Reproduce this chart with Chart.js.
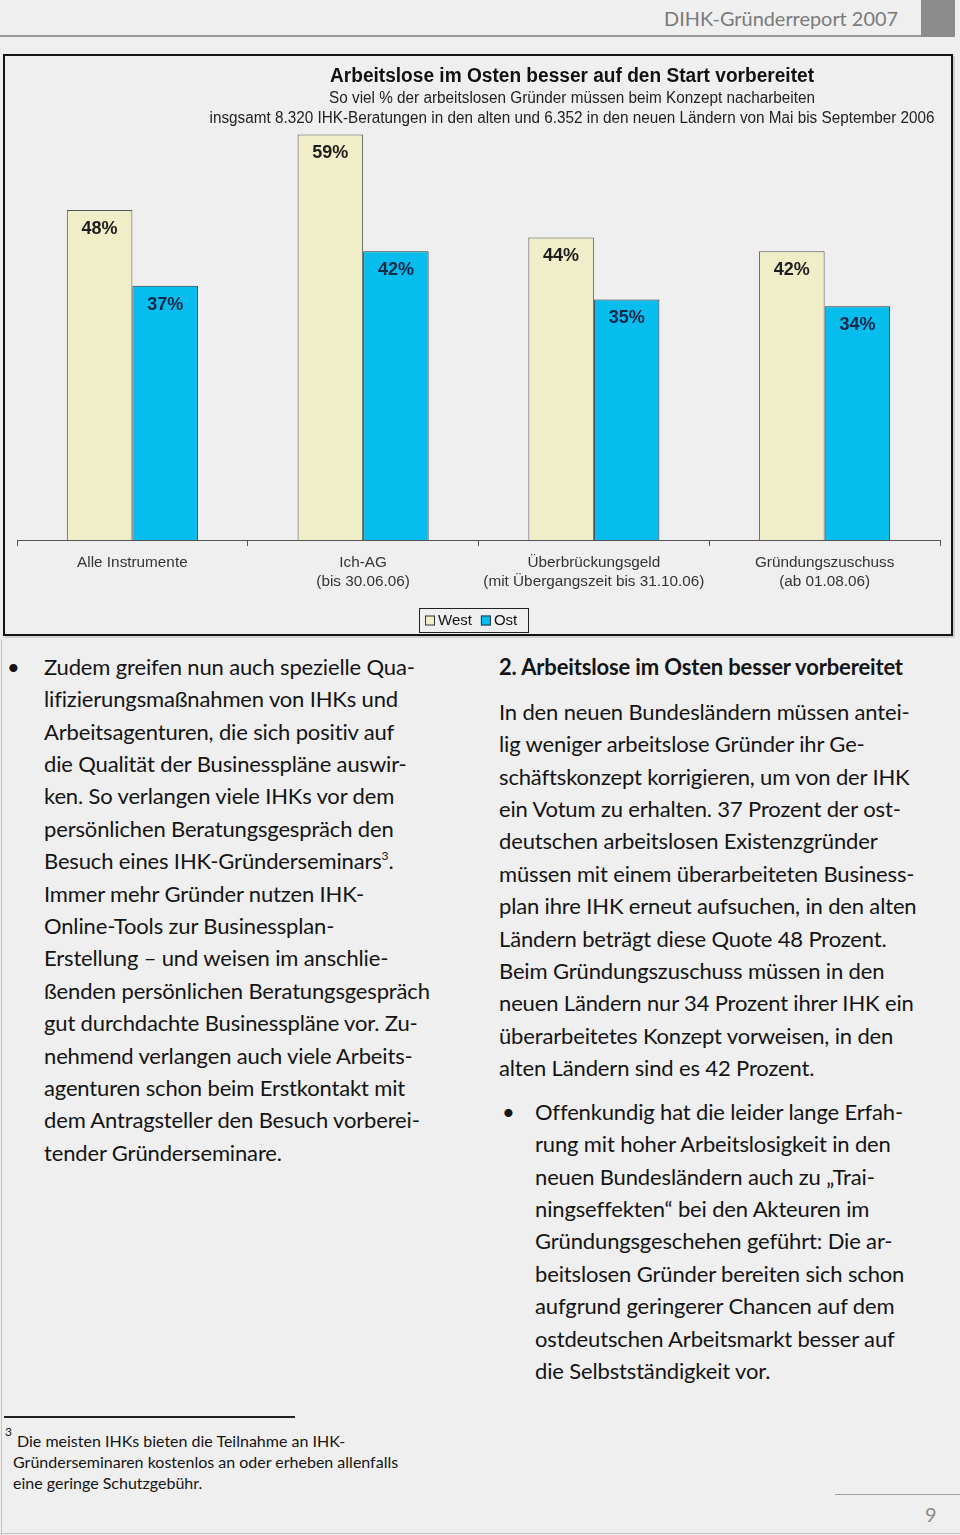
<!DOCTYPE html>
<html>
<head>
<meta charset="utf-8">
<script src="https://cdn.jsdelivr.net/npm/chart.js@4.4.1/dist/chart.umd.min.js"></script>
<style>
body { margin:0; width:960px; height:1535px; background:#efefef; position:relative; overflow:hidden; font-family:Lato, "Open Sans", sans-serif; color:#141414; }
.abs { position:absolute; }
.hdr { left:0; top:5px; width:898px; text-align:right; font-size:19.9px; color:#7a7a7a; line-height:26px; }
.hdrline { left:0; top:35px; width:921px; height:2px; background:#9a9a9a; }
.hdrblock { left:921px; top:0; width:34px; height:37px; background:#8c8c8c; }
.frame { left:3px; top:54px; width:950px; height:582px; box-sizing:border-box; border:2px solid #141414; box-shadow:2px 2px 0 #d0d0d0; }
.col { font-size:22px; line-height:32.4px; white-space:pre; letter-spacing:-0.15px; }
.col sup { font-size:12px; line-height:0; position:relative; top:-1px; }
.bullet { font-size:22px; line-height:32.4px; }
.fnline { left:4px; top:1416px; width:291px; height:1.5px; background:#222; }
.fn { font-size:16px; line-height:21px; white-space:pre; left:13px; top:1430px; }
.sup { left:5px; top:1424px; font-size:12px; }
.pgline { left:835px; top:1494px; width:125px; height:1px; background:#a0a0a0; }
.pg { left:925px; top:1502px; font-size:20px; color:#8a8a8a; }
.edge { left:1px; top:640px; width:1px; height:895px; background:#c4c4c4; }
.bottom { left:0; top:1533px; width:960px; height:1px; background:#c4c4c4; }
</style>
</head>
<body>
<div class="abs hdr">DIHK-Gründerreport 2007</div>
<div class="abs hdrline"></div>
<div class="abs hdrblock"></div>

<div class="abs frame">
  <canvas id="chart" width="946" height="578" style="display:block"></canvas>
</div>

<div class="abs bullet" style="left:7px;top:650.8px">•</div>
<div class="abs col" style="left:44px;top:650.8px">Zudem greifen nun auch spezielle Qua-
lifizierungsmaßnahmen von IHKs und
Arbeitsagenturen, die sich positiv auf
die Qualität der Businesspläne auswir-
ken. So verlangen viele IHKs vor dem
persönlichen Beratungsgespräch den
Besuch eines IHK-Gründerseminars<sup>3</sup>.
Immer mehr Gründer nutzen IHK-
Online-Tools zur Businessplan-
Erstellung – und weisen im anschlie-
ßenden persönlichen Beratungsgespräch
gut durchdachte Businesspläne vor. Zu-
nehmend verlangen auch viele Arbeits-
agenturen schon beim Erstkontakt mit
dem Antragsteller den Besuch vorberei-
tender Gründerseminare.</div>

<div class="abs col" style="left:499px;top:650.8px;font-weight:bold">2. Arbeitslose im Osten besser vorbereitet</div>
<div class="abs col" style="left:499px;top:695.8px">In den neuen Bundesländern müssen antei-
lig weniger arbeitslose Gründer ihr Ge-
schäftskonzept korrigieren, um von der IHK
ein Votum zu erhalten. 37 Prozent der ost-
deutschen arbeitslosen Existenzgründer
müssen mit einem überarbeiteten Business-
plan ihre IHK erneut aufsuchen, in den alten
Ländern beträgt diese Quote 48 Prozent.
Beim Gründungszuschuss müssen in den
neuen Ländern nur 34 Prozent ihrer IHK ein
überarbeitetes Konzept vorweisen, in den
alten Ländern sind es 42 Prozent.</div>

<div class="abs bullet" style="left:502px;top:1095.8px">•</div>
<div class="abs col" style="left:535px;top:1095.8px">Offenkundig hat die leider lange Erfah-
rung mit hoher Arbeitslosigkeit in den
neuen Bundesländern auch zu „Trai-
ningseffekten“ bei den Akteuren im
Gründungsgeschehen geführt: Die ar-
beitslosen Gründer bereiten sich schon
aufgrund geringerer Chancen auf dem
ostdeutschen Arbeitsmarkt besser auf
die Selbstständigkeit vor.</div>

<div class="abs fnline"></div>
<div class="abs sup">3</div>
<div class="abs fn"><span style="padding-left:4px">Die meisten IHKs bieten die Teilnahme an IHK-</span>
Gründerseminaren kostenlos an oder erheben allenfalls
eine geringe Schutzgebühr.</div>

<div class="abs pgline"></div>
<div class="abs pg">9</div>
<div class="abs edge"></div>
<div class="abs bottom"></div>

<script>
// chart data
const categories = [
  ["Alle Instrumente"],
  ["Ich-AG", "(bis 30.06.06)"],
  ["Überbrückungsgeld", "(mit Übergangszeit bis 31.10.06)"],
  ["Gründungszuschuss", "(ab 01.08.06)"]
];
const seriesNames = ["West", "Ost"];
const westValues = [48, 59, 44, 42];
const ostValues = [37, 42, 35, 34];
const titleLines = [
  "Arbeitslose im Osten besser auf den Start vorbereitet",
  "So viel % der arbeitslosen Gründer müssen beim Konzept nacharbeiten",
  "insgsamt 8.320 IHK-Beratungen in den alten und 6.352 in den neuen Ländern von Mai bis September 2006"
];

const arial = '"Liberation Sans", Arial, sans-serif';

// titles, value labels and the boxed legend
const extras = {
  id: 'extras',
  afterDatasetsDraw(chart) {
    const ctx = chart.ctx;
    ctx.save();
    ctx.font = 'bold 18px ' + arial;
    ctx.textAlign = 'center';
    ctx.textBaseline = 'middle';
    chart.data.datasets.forEach((ds, di) => {
      chart.getDatasetMeta(di).data.forEach((bar, i) => {
        ctx.fillStyle = di === 0 ? '#1e1e1e' : '#142847';
        ctx.fillText(ds.data[i] + '%', bar.x, bar.y + 19);
      });
    });
    ctx.restore();
  },
  afterDraw(chart) {
    const ctx = chart.ctx;
    ctx.save();
    ctx.textAlign = 'center';
    ctx.textBaseline = 'middle';
    ctx.fillStyle = '#111';
    ctx.font = 'bold 19.5px ' + arial;
    ctx.fillText(titleLines[0], 567, 21, 484);
    ctx.fillStyle = '#222';
    ctx.font = '16px ' + arial;
    ctx.fillText(titleLines[1], 567, 43, 486);
    ctx.fillText(titleLines[2], 567, 63, 725);

    // legend
    const bx = 414, by = 552, bw = 109, bh = 24;
    ctx.strokeStyle = '#222';
    ctx.lineWidth = 1;
    ctx.strokeRect(bx + 0.5, by + 0.5, bw, bh);
    ctx.font = '15px ' + arial;
    ctx.textAlign = 'left';
    let x = bx + 6;
    const cy = by + bh / 2 + 0.5;
    chart.data.datasets.forEach(ds => {
      ctx.fillStyle = ds.backgroundColor;
      ctx.fillRect(x, cy - 5, 10, 10);
      ctx.strokeStyle = '#333';
      ctx.strokeRect(x + 0.5, cy - 4.5, 9, 9);
      ctx.fillStyle = '#111';
      ctx.fillText(ds.label, x + 13, cy);
      x += 13 + ctx.measureText(ds.label).width + 9;
    });
    ctx.restore();
  }
};

new Chart(document.getElementById('chart'), {
  type: 'bar',
  data: {
    labels: categories,
    datasets: [
      { label: seriesNames[0], data: westValues, backgroundColor: '#f0eec8', borderColor: '#555', borderWidth: 1 },
      { label: seriesNames[1], data: ostValues, backgroundColor: '#06bdee', borderColor: '#333', borderWidth: 1 }
    ]
  },
  options: {
    responsive: false,
    animation: false,
    devicePixelRatio: 1,
    categoryPercentage: 0.568,
    barPercentage: 1,
    layout: { padding: { left: 12, right: 11, top: 71.5, bottom: 0 } },
    plugins: { legend: { display: false }, tooltip: { enabled: false }, title: { display: false } },
    scales: {
      x: {
        grid: { offset: true, drawOnChartArea: false, drawTicks: true, tickLength: 6, color: '#555' },
        border: { display: true, color: '#555', width: 1 },
        ticks: { color: '#333', padding: 7, font: { family: arial, size: 15.3, lineHeight: 1.25 } },
        afterFit(scale) { scale.height = 94; }
      },
      y: { display: false, min: 0, max: 60 }
    }
  },
  plugins: [extras]
});
</script>
</body>
</html>
